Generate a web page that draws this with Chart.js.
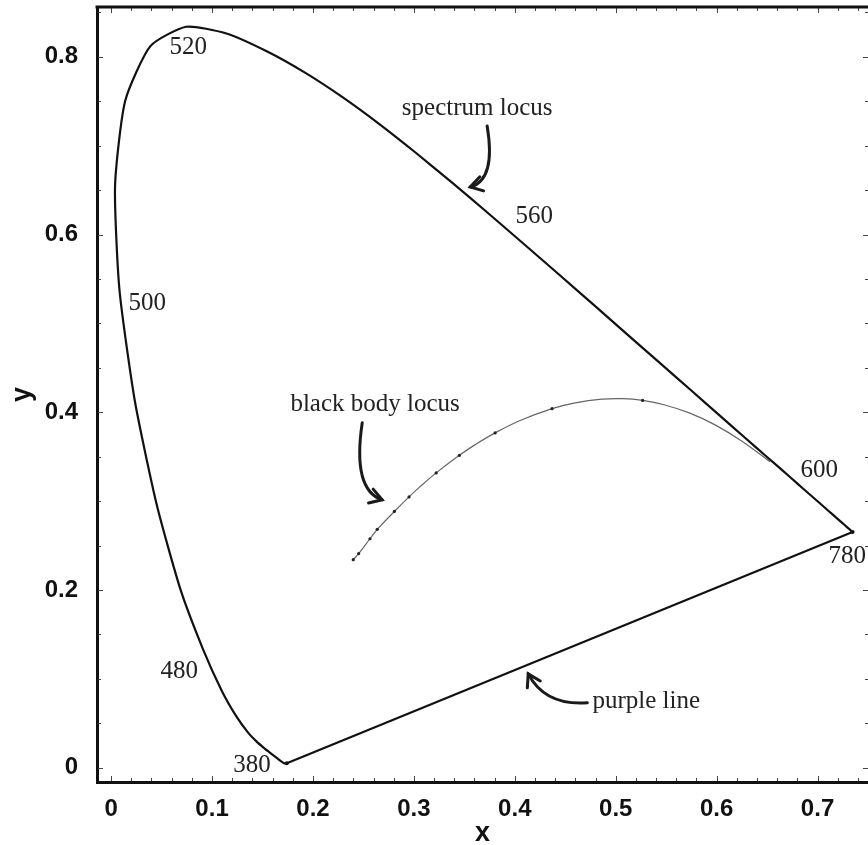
<!DOCTYPE html>
<html>
<head>
<meta charset="utf-8">
<script src="https://cdn.jsdelivr.net/npm/chart.js@4"></script>
<style>
  body { margin: 0; background: #fff; }
  canvas { display: block; }
</style>
</head>
<body>
<canvas id="chart" width="868" height="845"></canvas>
<script>
// CIE 1931 spectrum locus (matches the standard table)
const wavelengths = [380, 385, 390, 395, 400, 405, 410, 415, 420, 425, 430, 435, 440, 445, 450, 455,
  460, 465, 470, 475, 480, 485, 490, 495, 500, 505, 510, 515, 520, 525, 530, 535, 540, 545, 550, 555,
  560, 565, 570, 575, 580, 585, 590, 595, 600, 605, 610, 615, 620, 625, 630, 635, 640, 645, 650, 655,
  660, 665, 670, 675, 680, 690, 700, 780];
const locusX = [0.1741, 0.1740, 0.1738, 0.1736, 0.1733, 0.1730, 0.1726, 0.1721, 0.1714, 0.1703, 0.1689,
  0.1669, 0.1644, 0.1611, 0.1566, 0.1510, 0.1440, 0.1355, 0.1241, 0.1096, 0.0913, 0.0687, 0.0454, 0.0235,
  0.0082, 0.0039, 0.0139, 0.0389, 0.0743, 0.1142, 0.1547, 0.1929, 0.2296, 0.2658, 0.3016, 0.3373, 0.3731,
  0.4087, 0.4441, 0.4788, 0.5125, 0.5448, 0.5752, 0.6029, 0.6270, 0.6482, 0.6658, 0.6801, 0.6915, 0.7006,
  0.7079, 0.7140, 0.7190, 0.7230, 0.7260, 0.7283, 0.7300, 0.7311, 0.7320, 0.7327, 0.7334, 0.7344, 0.7347, 0.7347];
const locusY = [0.0050, 0.0050, 0.0049, 0.0049, 0.0048, 0.0048, 0.0048, 0.0048, 0.0051, 0.0058, 0.0069,
  0.0086, 0.0109, 0.0138, 0.0177, 0.0227, 0.0297, 0.0399, 0.0578, 0.0868, 0.1327, 0.2007, 0.2950, 0.4127,
  0.5384, 0.6548, 0.7502, 0.8120, 0.8338, 0.8262, 0.8059, 0.7816, 0.7543, 0.7243, 0.6923, 0.6589, 0.6245,
  0.5896, 0.5547, 0.5202, 0.4866, 0.4544, 0.4242, 0.3965, 0.3725, 0.3514, 0.3340, 0.3197, 0.3083, 0.2993,
  0.2920, 0.2859, 0.2809, 0.2770, 0.2740, 0.2717, 0.2700, 0.2689, 0.2680, 0.2673, 0.2666, 0.2656, 0.2653, 0.2653];

// black body (Planckian) locus, 1000 K to infinity
const bbTemps = [1000, 1200, 1400, 1600, 1800, 2000, 2200, 2400, 2700, 3000, 3500, 4000, 4500, 5000,
  6000, 7000, 8000, 10000, 15000, 20000, 50000, Infinity];
const bbX = [0.6528, 0.6251, 0.5985, 0.5729, 0.5486, 0.5267, 0.5071, 0.4862, 0.4599, 0.4369, 0.4053,
  0.3805, 0.3608, 0.3451, 0.3221, 0.3064, 0.2952, 0.2807, 0.2637, 0.2565, 0.2453, 0.2399];
const bbY = [0.3444, 0.3674, 0.3858, 0.3993, 0.4082, 0.4133, 0.4153, 0.4147, 0.4106, 0.4041, 0.3907,
  0.3768, 0.3636, 0.3516, 0.3318, 0.3166, 0.3048, 0.2884, 0.2683, 0.2577, 0.2410, 0.2341];
const bbMarked = [2000, 3000, 4000, 5000, 6000, 8000, 10000, 15000, 20000, 50000, Infinity];

// axes
const xTickValues = [0, 0.1, 0.2, 0.3, 0.4, 0.5, 0.6, 0.7];
const xTickLabels = ['0', '0.1', '0.2', '0.3', '0.4', '0.5', '0.6', '0.7'];
const yTickValues = [0, 0.2, 0.4, 0.6, 0.8];
const yTickLabels = ['0', '0.2', '0.4', '0.6', '0.8'];

// annotations (data coordinates)
const labelText = ['520', '560', '500', '600', '780', '480', '380', 'spectrum locus', 'black body locus', 'purple line'];
const labelX = [0.0763, 0.4192, 0.0357, 0.7017, 0.7294, 0.0674, 0.1397, 0.3627, 0.2616, 0.5302];
const labelY = [0.811, 0.6198, 0.523, 0.334, 0.2373, 0.108, 0.0022, 0.7424, 0.4083, 0.0742];
// curved arrows: start, control, tip
const arrowStart = [[0.3726, 0.7222], [0.2488, 0.3881], [0.4718, 0.0731]];
const arrowCtrl = [[0.3816, 0.6614], [0.2389, 0.3127], [0.4301, 0.0697]];
const arrowTip = [[0.3558, 0.6535], [0.2686, 0.3015], [0.4133, 0.1057]];

const locusPts = wavelengths.map((w, i) => ({x: locusX[i], y: locusY[i]}));
const first = 0, last = wavelengths.length - 1;
const purplePts = [locusPts[first], locusPts[last]];
const bbPts = bbTemps.map((t, i) => ({x: bbX[i], y: bbY[i]}));

const frame = {
    id: 'frame',
    afterDatasetsDraw(chart) {
        const {ctx, chartArea: a, scales: {x, y}} = chart;
        ctx.save();

        // inward ticks on all four sides
        ctx.strokeStyle = '#444';
        ctx.lineWidth = 1;
        ctx.beginPath();
        for (let k = 0; k <= 37; k++) {
            const v = k * 0.02;
            const px = Math.round(x.getPixelForValue(v)) + 0.5;
            const len = k % 5 === 0 ? 5 : 3;
            ctx.moveTo(px, a.bottom - 1); ctx.lineTo(px, a.bottom - 1 - len);
            ctx.moveTo(px, a.top + 1); ctx.lineTo(px, a.top + 1 + len);
        }
        for (let k = 0; k <= 17; k++) {
            const v = k * 0.05;
            const py = Math.round(y.getPixelForValue(v)) + 0.5;
            const len = k % 4 === 0 ? 5 : 3;
            ctx.moveTo(a.left + 1, py); ctx.lineTo(a.left + 1 + len, py);
            ctx.moveTo(a.right, py); ctx.lineTo(a.right - len, py);
        }
        ctx.stroke();

        // top border
        ctx.strokeStyle = '#111';
        ctx.lineWidth = 3;
        ctx.beginPath();
        ctx.moveTo(a.left - 1.5, a.top);
        ctx.lineTo(a.right, a.top);
        ctx.stroke();

        // text labels
        ctx.fillStyle = '#222';
        ctx.font = '25px "Liberation Serif", "Times New Roman", serif';
        ctx.textAlign = 'center';
        ctx.textBaseline = 'middle';
        labelText.forEach((t, i) => {
            ctx.fillText(t, x.getPixelForValue(labelX[i]), y.getPixelForValue(labelY[i]));
        });

        // curved arrows
        ctx.strokeStyle = '#1a1a1a';
        ctx.lineWidth = 3;
        ctx.lineCap = 'round';
        ctx.lineJoin = 'miter';
        arrowStart.forEach((s, i) => {
            const p0 = [x.getPixelForValue(s[0]), y.getPixelForValue(s[1])];
            const c = [x.getPixelForValue(arrowCtrl[i][0]), y.getPixelForValue(arrowCtrl[i][1])];
            const p1 = [x.getPixelForValue(arrowTip[i][0]), y.getPixelForValue(arrowTip[i][1])];
            ctx.beginPath();
            ctx.moveTo(p0[0], p0[1]);
            ctx.quadraticCurveTo(c[0], c[1], p1[0], p1[1]);
            ctx.stroke();
            const ang = Math.atan2(p1[1] - c[1], p1[0] - c[0]);
            const len = 14;
            ctx.beginPath();
            ctx.moveTo(p1[0] - len * Math.cos(ang - 0.55), p1[1] - len * Math.sin(ang - 0.55));
            ctx.lineTo(p1[0], p1[1]);
            ctx.lineTo(p1[0] - len * Math.cos(ang + 0.55), p1[1] - len * Math.sin(ang + 0.55));
            ctx.stroke();
        });

        ctx.restore();
    }
};

const tickFont = {family: '"Liberation Sans", Arial, sans-serif', size: 24, weight: 'bold'};
const titleFont = {family: '"Liberation Sans", Arial, sans-serif', size: 27, weight: 'bold', lineHeight: 1};

new Chart(document.getElementById('chart'), {
    type: 'scatter',
    data: {
        datasets: [
            {
                label: 'spectrum locus',
                data: locusPts,
                showLine: true,
                borderColor: '#111',
                borderWidth: 2.2,
                tension: 0.2,
                pointRadius: wavelengths.map((w, i) => (i === first || i === last) ? 2 : 0),
                pointBackgroundColor: '#111',
                pointBorderWidth: 0,
            },
            {
                label: 'purple line',
                data: purplePts,
                showLine: true,
                borderColor: '#111',
                borderWidth: 2.2,
                pointRadius: 0,
            },
            {
                label: 'black body locus',
                data: bbPts,
                showLine: true,
                borderColor: '#666',
                borderWidth: 1.2,
                tension: 0.4,
                pointRadius: bbTemps.map(t => bbMarked.includes(t) ? 1.6 : 0),
                pointBackgroundColor: '#222',
                pointBorderWidth: 0,
            },
        ]
    },
    options: {
        responsive: false,
        animation: false,
        devicePixelRatio: 1,
        layout: { autoPadding: false, padding: {top: 7, right: 0, left: 0, bottom: 0} },
        plugins: {
            legend: { display: false },
            tooltip: { enabled: false },
        },
        scales: {
            x: {
                type: 'linear',
                position: 'bottom',
                min: -0.014,
                max: 0.75,
                afterFit: s => { s.height = 63; s.paddingLeft = 0; s.paddingRight = 0; },
                afterBuildTicks: s => { s.ticks = xTickValues.map(v => ({value: v})); },
                grid: { display: false, drawTicks: false },
                border: { display: true, width: 3, color: '#111' },
                ticks: {
                    autoSkip: false,
                    maxRotation: 0,
                    padding: 13,
                    color: '#111',
                    font: tickFont,
                    callback: (v, i) => xTickLabels[i],
                },
                title: {
                    display: true,
                    text: 'x',
                    color: '#111',
                    font: {...titleFont, lineHeight: 0.85},
                    padding: {top: 0, bottom: 0},
                },
            },
            y: {
                type: 'linear',
                position: 'left',
                min: -0.016,
                max: 0.856,
                afterFit: s => { s.width = 97; s.paddingTop = 0; s.paddingBottom = 0; },
                afterBuildTicks: s => { s.ticks = yTickValues.map(v => ({value: v})); },
                grid: { display: false, drawTicks: false },
                border: { display: true, width: 3, color: '#111' },
                ticks: {
                    autoSkip: false,
                    padding: 19,
                    color: '#111',
                    font: tickFont,
                    callback: (v, i) => yTickLabels[i],
                },
                title: {
                    display: true,
                    text: 'y',
                    color: '#111',
                    font: titleFont,
                    padding: {top: 9, bottom: 0},
                },
            },
        },
    },
    plugins: [frame],
});
</script>
</body>
</html>
